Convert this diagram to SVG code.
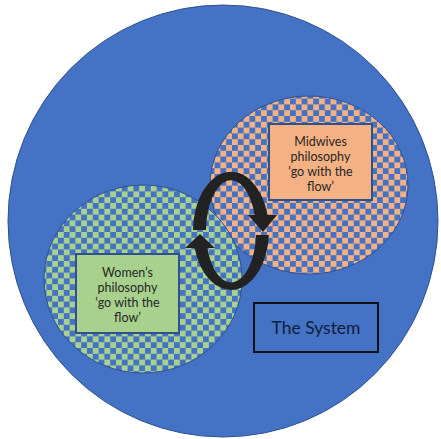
<svg xmlns="http://www.w3.org/2000/svg" width="441" height="439" viewBox="0 0 441 439">
  <defs>
    <!-- large checkerboard fills -->
    <pattern id="checkOrange" patternUnits="userSpaceOnUse" width="11.6" height="11.6">
      <rect width="11.6" height="11.6" fill="#4472c4"/>
      <rect width="5.8" height="5.8" fill="#f4b183"/>
      <rect x="5.8" y="5.8" width="5.8" height="5.8" fill="#f4b183"/>
    </pattern>
    <pattern id="checkGreen" patternUnits="userSpaceOnUse" width="11.6" height="11.6">
      <rect width="11.6" height="11.6" fill="#4472c4"/>
      <rect width="5.8" height="5.8" fill="#a9d18e"/>
      <rect x="5.8" y="5.8" width="5.8" height="5.8" fill="#a9d18e"/>
    </pattern>
    <style>
      .ring { stroke: #2f528f; stroke-width: 1; }
      .label { font-family: Lato, "Liberation Sans", sans-serif; font-size: 12.5px; fill: #262626; text-anchor: middle; }
      .box { stroke: #2f528f; stroke-width: 2; }
      .arrow { fill: #222222; }
    </style>
  </defs>

  <!-- outer circle: the system -->
  <g id="system-circle">
    <ellipse cx="223" cy="221" rx="215" ry="216" fill="#4472c4" class="ring"/>
  </g>

  <!-- midwives -->
  <g id="midwives">
    <ellipse cx="309" cy="185" rx="99" ry="89" fill="url(#checkOrange)" class="ring"/>
    <rect x="269" y="124" width="103" height="76" fill="#f4b183" class="box"/>
    <text class="label" x="320.5" y="146">Midwives</text>
    <text class="label" x="320.5" y="161">philosophy</text>
    <text class="label" x="320.5" y="176">‘go with the</text>
    <text class="label" x="320.5" y="191">flow’</text>
  </g>

  <!-- women -->
  <g id="women">
    <ellipse cx="143" cy="279" rx="99" ry="94" fill="url(#checkGreen)" class="ring"/>
    <rect x="76" y="254" width="103" height="79" fill="#a9d18e" class="box"/>
    <text class="label" x="127.5" y="277">Women’s</text>
    <text class="label" x="127.5" y="292">philosophy</text>
    <text class="label" x="127.5" y="307">‘go with the</text>
    <text class="label" x="127.5" y="322">flow’</text>
  </g>

  <!-- the system label -->
  <g id="the-system">
    <rect x="254" y="303" width="124" height="49" fill="none" stroke="#111111" stroke-width="2"/>
    <text x="316" y="334" font-family="Lato, 'Liberation Sans', sans-serif" font-size="17.5" fill="#0f1d3d" text-anchor="middle">The System</text>
  </g>

  <!-- cycle arrows between the two philosophies -->
  <g id="cycle-arrows">
    <path class="arrow" d="M193,230 A38,59 0 0 1 267.6,215 L277,215 L263,232 L248,215 L254.7,215 A25,51 0 0 0 206,230 Z"/>
    <path class="arrow" d="M268.9,235 A38,59 0 0 1 194.6,248 L185,248 L200,234 L215,248 L207.4,248 A25,51 0 0 0 256,235 Z"/>
  </g>
</svg>
